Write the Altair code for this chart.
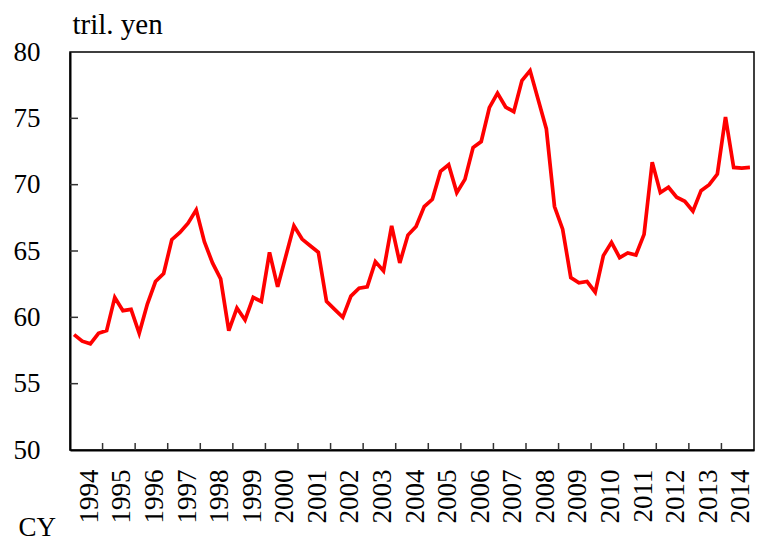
import altair as alt
import pandas as pd

years = list(range(1994, 2015))
values = [
    58.7, 58.2, 58.0, 58.8,
    59.0, 61.5, 60.5, 60.6,
    58.8, 61.0, 62.7, 63.3,
    65.85, 66.4, 67.1, 68.1,
    65.7, 64.1, 62.9, 59.0,
    60.7, 59.8, 61.5, 61.2,
    64.9, 62.3, 64.6, 66.9,
    65.9, 65.4, 64.9, 61.2,
    60.6, 60.0, 61.6, 62.2,
    62.3, 64.2, 63.5, 66.9,
    64.1, 66.2, 66.85, 68.35,
    68.9, 71.0, 71.5, 69.4,
    70.4, 72.8, 73.25, 75.8,
    76.9, 75.85, 75.5, 77.85,
    78.6, 76.4, 74.2, 68.35,
    66.65, 63.0, 62.6, 62.7,
    61.9, 64.65, 65.65, 64.5,
    64.85, 64.7, 66.25, 71.7,
    69.4, 69.8, 69.05, 68.75,
    68.0, 69.55, 70.0, 70.8,
    75.1, 71.3, 71.25, 71.3,
]
y_ticks = [50, 55, 60, 65, 70, 75, 80]

t = [y + (q + 0.5) / 4 for y in years for q in range(4)]
df = pd.DataFrame({"t": t, "v": values})

W, H = 684, 398
FONT = "Liberation Serif"
FS = 27

xscale = alt.Scale(domain=[years[0], years[-1] + 1], nice=False, zero=False)
yscale = alt.Scale(domain=[y_ticks[0], y_ticks[-1]], nice=False, zero=False)

xaxis = alt.Axis(
    values=[y + 0.5 for y in years],
    labelExpr="floor(datum.value)",
    labelAngle=270, ticks=False, grid=False, labelOffset=3,
    labelPadding=19, labelFont=FONT, labelFontSize=FS, labelColor="black",
    labelFlush=False, labelOverlap=False, labelSeparation=0,
    domainColor="black", domainWidth=2,
    title="CY", titleFont=FONT, titleFontSize=FS, titleFontWeight="normal",
    titleColor="black", titleAngle=0, titleAlign="left",
    titleBaseline="alphabetic", titleX=-52, titleY=85, titleAnchor="start",
)
yaxis = alt.Axis(
    values=y_ticks, ticks=False, grid=False,
    labelPadding=30, labelFont=FONT, labelFontSize=FS, labelColor="black",
    labelFlush=False, labelOverlap=False,
    domainColor="black", domainWidth=2,
    title="tril. yen", titleFont=FONT, titleFontSize=29, titleFontWeight="normal",
    titleColor="black", titleAngle=0, titleAlign="left",
    titleBaseline="alphabetic", titleX=2, titleY=-19, titleAnchor="start",
)

line = alt.Chart(df).mark_line(color="#ff0000", strokeWidth=3.7).encode(
    x=alt.X("t:Q", scale=xscale, axis=xaxis),
    y=alt.Y("v:Q", scale=yscale, axis=yaxis),
)

xt = pd.DataFrame({"b": years[1:]})
xticks = alt.Chart(xt).mark_rule(color="#333333", strokeWidth=1.5).encode(
    x=alt.X("b:Q", scale=xscale, axis=xaxis),
    y=alt.value(H),
    y2=alt.value(H - 7),
)

yt = pd.DataFrame({"v": y_ticks[1:-1]})
yticks = alt.Chart(yt).mark_rule(color="#333333", strokeWidth=1.5).encode(
    y=alt.Y("v:Q", scale=yscale, axis=yaxis),
    x=alt.value(0),
    x2=alt.value(8),
)

chart = alt.layer(line, xticks, yticks).properties(
    width=W, height=H,
    autosize=alt.AutoSizeParams(type="none"),
    padding={"left": 62, "top": 44, "right": 6, "bottom": 90},
).configure(
    background="white",
    view=alt.ViewConfig(stroke="black", strokeWidth=1.5),
)

chart.save("out.html", embed_options={"renderer": "svg", "actions": False})
